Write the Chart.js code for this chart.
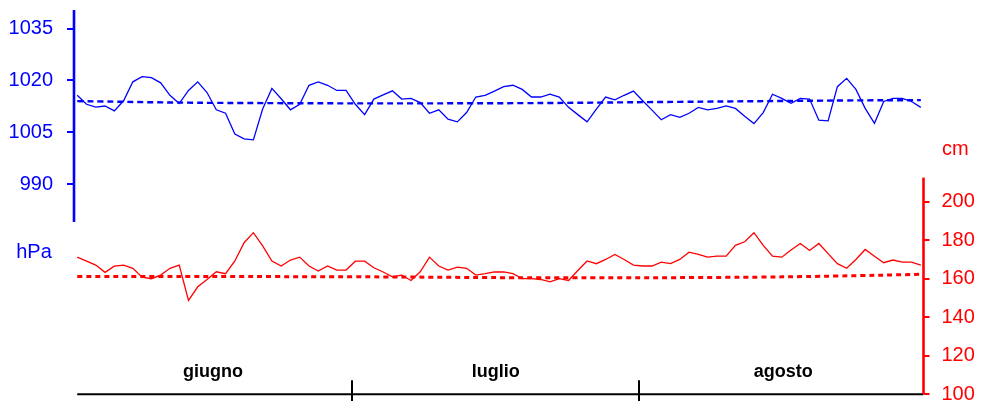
<!DOCTYPE html>
<html lang="it">
<head>
<meta charset="utf-8">
<title>Pressione atmosferica e livello – giugno, luglio, agosto</title>
<script src="https://cdn.jsdelivr.net/npm/chart.js@4.4.1/dist/chart.umd.min.js"></script>
<style>
  html, body { margin: 0; padding: 0; background: #ffffff; }
  #wrap { width: 981px; height: 401px; position: relative; }
</style>
</head>
<body>
<div id="wrap"><canvas id="chart"></canvas></div>
<script>
// ---- data -------------------------------------------------------------
const months = ['giugno', 'luglio', 'agosto'];
const monthDays = [30, 31, 31];

const pressureTicks = [990, 1005, 1020, 1035];
const levelTicks = [100, 120, 140, 160, 180, 200];

// daily atmospheric pressure (hPa)
const pressure = [
  // giugno
  1015.7, 1013.1, 1012.3, 1012.6, 1011.2, 1014.1, 1019.6, 1021.1, 1020.8, 1019.3,
  1015.7, 1013.3, 1017.1, 1019.6, 1016.5, 1011.5, 1010.5, 1004.5, 1003.1, 1002.8,
  1011.7, 1017.7, 1014.7, 1011.5, 1013.1, 1018.6, 1019.6, 1018.6, 1017.1, 1017.1,
  // luglio
  1013.1, 1010.1, 1014.6, 1015.8, 1017.0, 1014.6, 1014.8, 1013.6, 1010.5, 1011.5,
  1008.8, 1008.0, 1010.7, 1015.2, 1015.7, 1016.9, 1018.2, 1018.6, 1017.4, 1015.2,
  1015.2, 1016.0, 1015.2, 1012.2, 1010.1, 1008.0, 1011.7, 1015.2, 1014.4, 1015.7,
  1016.9,
  // agosto
  1014.1, 1011.4, 1008.6, 1010.1, 1009.3, 1010.5, 1012.2, 1011.5, 1011.9, 1012.6,
  1011.9, 1009.6, 1007.5, 1010.7, 1016.0, 1014.8, 1013.4, 1014.8, 1014.6, 1008.5,
  1008.3, 1018.2, 1020.6, 1017.4, 1011.9, 1007.6, 1013.9, 1014.8, 1014.8, 1013.9,
  1012.2
];

// daily level (cm)
const level = [
  // giugno
  171.2, 169.1, 167.1, 163.3, 166.5, 167.1, 165.4, 160.8, 160.0, 161.9,
  165.4, 167.1, 148.7, 155.8, 159.6, 163.6, 162.6, 169.2, 178.7, 183.9,
  177.0, 169.2, 166.6, 169.7, 171.2, 166.6, 164.0, 166.6, 164.5, 164.5,
  // luglio
  169.1, 169.1, 165.7, 163.5, 161.0, 161.9, 159.1, 163.6, 171.2, 166.6,
  164.5, 166.0, 165.4, 161.9, 162.6, 163.5, 163.5, 162.6, 160.0, 160.0,
  159.6, 158.4, 160.0, 159.1, 164.3, 169.2, 167.8, 170.0, 172.6, 170.0,
  167.1,
  // agosto
  166.6, 166.6, 168.6, 167.8, 170.0, 173.8, 172.6, 171.2, 171.7, 171.7,
  177.3, 179.2, 183.9, 177.3, 171.7, 171.2, 174.9, 178.3, 174.7, 178.3,
  173.0, 167.8, 165.4, 170.0, 175.2, 171.7, 168.3, 169.7, 168.6, 168.6,
  167.1
];

// trend curves, given at a few days of the period
const pressureTrendDays = [0, 15, 45, 65, 83, 91];
const pressureTrend = [1014.0, 1013.5, 1013.4, 1013.8, 1014.2, 1014.3];
const levelTrendDays = [0, 30, 50, 70, 82, 91];
const levelTrend = [161.2, 161.0, 160.5, 160.7, 161.4, 162.3];

// ---- style ------------------------------------------------------------
const BLUE = '#0000ff';
const RED = '#ff0000';
const FONT = '"Liberation Sans", Arial, Helvetica, sans-serif';
const DAY_SHIFT = 0.35;                 // each reading sits just after the day start
const PRESSURE_AXIS_SPAN = [979, 1040.4];
const LEVEL_AXIS_SPAN = [100, 212.5];

const toPoints = (vals, days) =>
  vals.map((v, i) => ({ x: (days ? days[i] : i) + DAY_SHIFT, y: v }));

const fixedTicks = list => scale => {
  scale.ticks = list.map(v => ({ value: v }));
};

const fixedWidth = w => scale => {
  scale.width = w;
  scale.paddingTop = 0;
  scale.paddingBottom = 0;
};

// axis lines, month axis and unit captions
const frame = {
  id: 'frame',
  afterDatasetsDraw(chart) {
    const { ctx, chartArea, scales } = chart;
    const x = scales.x, yP = scales.yP, yL = scales.yL;
    const base = chartArea.bottom;
    ctx.save();

    // month axis
    ctx.strokeStyle = '#000000';
    ctx.lineWidth = 2;
    ctx.beginPath();
    ctx.moveTo(x.getPixelForValue(DAY_SHIFT), base);
    ctx.lineTo(chartArea.right, base);
    ctx.stroke();

    ctx.font = 'bold 18px ' + FONT;
    ctx.fillStyle = '#000000';
    ctx.textAlign = 'center';
    ctx.textBaseline = 'alphabetic';
    let start = 0;
    monthDays.forEach((n, i) => {
      ctx.fillText(months[i], x.getPixelForValue(start + n / 2), base - 17.3);
      start += n;
      if (i < monthDays.length - 1) {
        const sx = Math.round(x.getPixelForValue(start));
        ctx.beginPath();
        ctx.moveTo(sx, base - 14);
        ctx.lineTo(sx, base + 8);
        ctx.stroke();
      }
    });

    // pressure axis line
    ctx.strokeStyle = BLUE;
    ctx.lineWidth = 2.6;
    ctx.beginPath();
    ctx.moveTo(yP.right, yP.getPixelForValue(PRESSURE_AXIS_SPAN[1]));
    ctx.lineTo(yP.right, yP.getPixelForValue(PRESSURE_AXIS_SPAN[0]));
    ctx.stroke();

    // level axis line
    ctx.strokeStyle = RED;
    ctx.beginPath();
    ctx.moveTo(yL.left, yL.getPixelForValue(LEVEL_AXIS_SPAN[1]));
    ctx.lineTo(yL.left, yL.getPixelForValue(LEVEL_AXIS_SPAN[0]));
    ctx.stroke();

    // unit captions
    ctx.font = '20px ' + FONT;
    ctx.fillStyle = BLUE;
    ctx.textAlign = 'center';
    ctx.fillText('hPa', 34, 258);
    ctx.fillStyle = RED;
    ctx.textAlign = 'left';
    ctx.fillText('cm', 942, 155);

    ctx.restore();
  }
};

new Chart(document.getElementById('chart'), {
  type: 'line',
  data: {
    datasets: [
      {
        label: 'Pressione (hPa)',
        data: toPoints(pressure),
        yAxisID: 'yP',
        borderColor: BLUE,
        borderWidth: 1.3,
        pointRadius: 0,
        tension: 0
      },
      {
        label: 'Livello (cm)',
        data: toPoints(level),
        yAxisID: 'yL',
        borderColor: RED,
        borderWidth: 1.3,
        pointRadius: 0,
        tension: 0
      },
      {
        label: 'Tendenza pressione',
        data: toPoints(pressureTrend, pressureTrendDays),
        yAxisID: 'yP',
        borderColor: BLUE,
        borderWidth: 2.4,
        borderDash: [6, 4],
        pointRadius: 0,
        tension: 0.4
      },
      {
        label: 'Tendenza livello',
        data: toPoints(levelTrend, levelTrendDays),
        yAxisID: 'yL',
        borderColor: RED,
        borderWidth: 3,
        borderDash: [5, 4],
        pointRadius: 0,
        tension: 0.4
      }
    ]
  },
  options: {
    responsive: true,
    maintainAspectRatio: false,
    animation: false,
    events: [],
    layout: { padding: { top: 10, bottom: 6.7, left: 0, right: 0 } },
    plugins: {
      legend: { display: false },
      tooltip: { enabled: false }
    },
    scales: {
      x: {
        type: 'linear',
        display: false,
        min: 0,
        max: 91.64
      },
      yP: {
        type: 'linear',
        position: 'left',
        min: 929.1,
        max: 1040.4,
        afterBuildTicks: fixedTicks(pressureTicks),
        afterFit: fixedWidth(74),
        border: { display: false },
        grid: {
          drawOnChartArea: false,
          drawTicks: true,
          tickLength: 7,
          color: BLUE,
          lineWidth: 2
        },
        ticks: {
          color: BLUE,
          padding: 14,
          font: { family: FONT, size: 20 },
          callback: v => String(v),
          autoSkip: false
        }
      },
      yL: {
        type: 'linear',
        position: 'right',
        min: 100,
        max: 299.5,
        afterBuildTicks: fixedTicks(levelTicks),
        afterFit: fixedWidth(57.5),
        border: { display: false },
        grid: {
          drawOnChartArea: false,
          drawTicks: true,
          tickLength: 6,
          color: RED,
          lineWidth: 2
        },
        ticks: {
          color: RED,
          padding: 12,
          font: { family: FONT, size: 20 },
          callback: v => String(v),
          autoSkip: false
        }
      }
    }
  },
  plugins: [frame]
});
</script>
</body>
</html>
